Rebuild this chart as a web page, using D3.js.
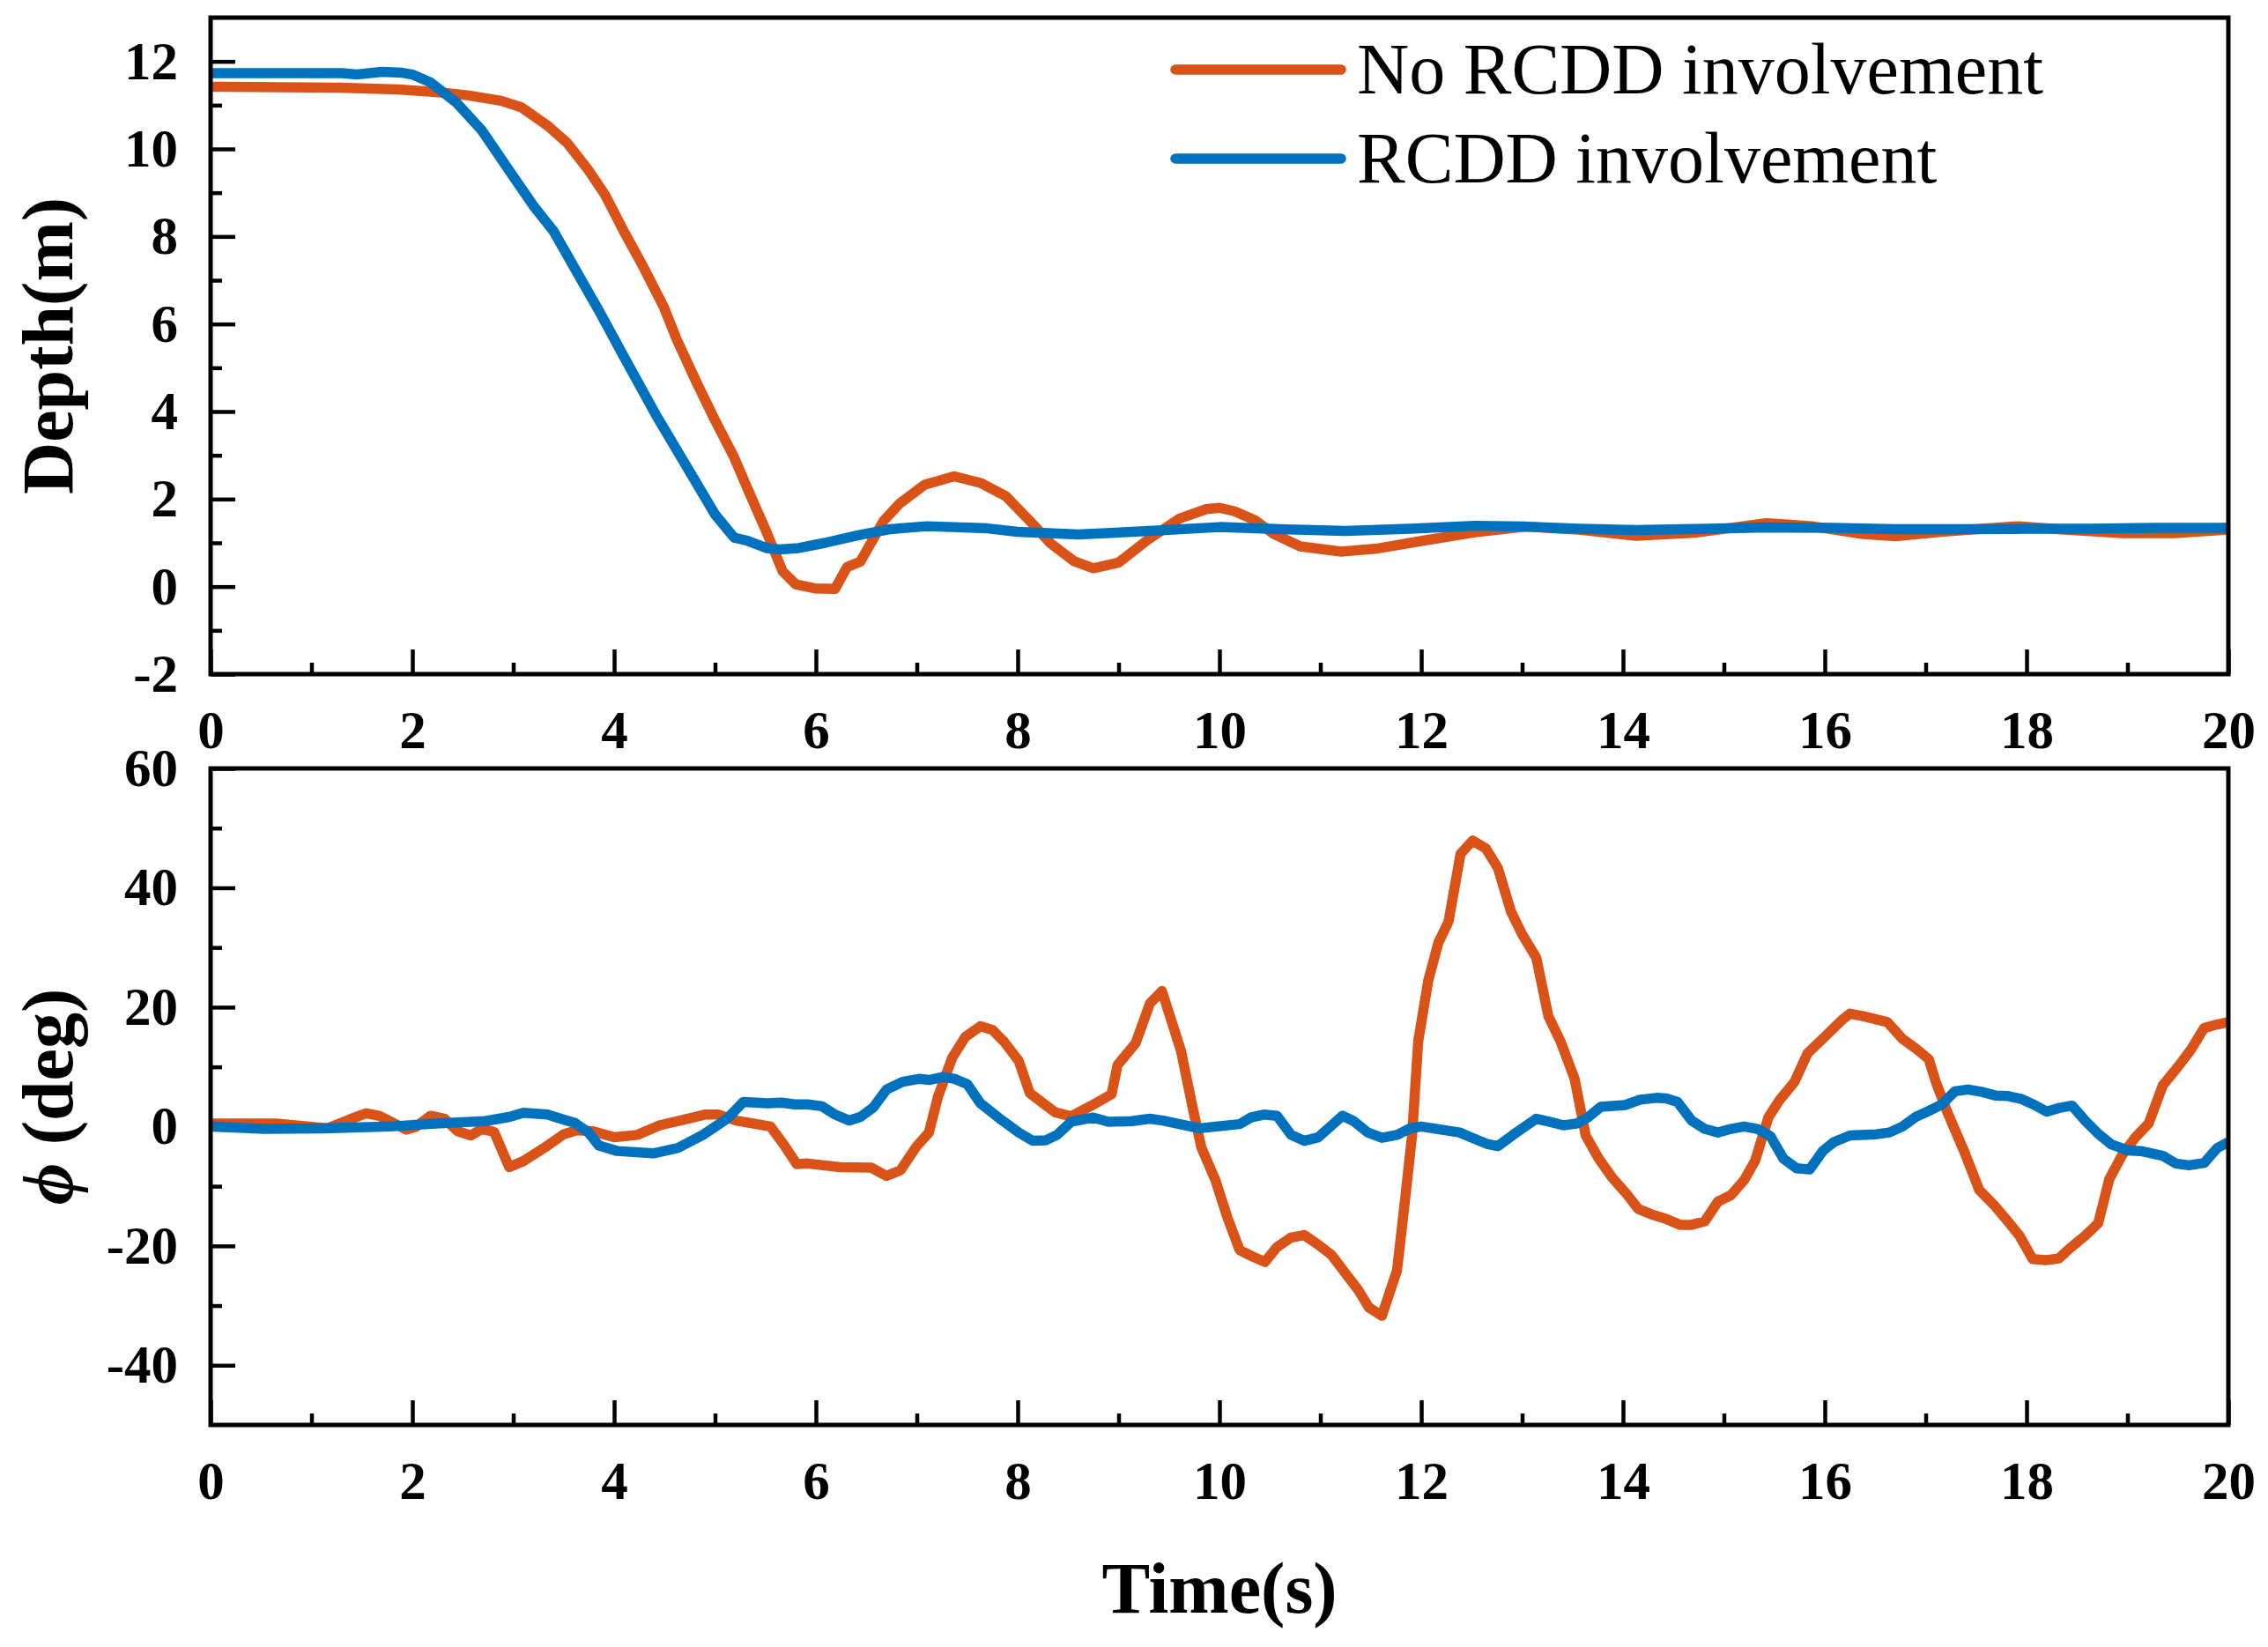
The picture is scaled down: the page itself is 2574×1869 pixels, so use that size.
<!DOCTYPE html>
<html>
<head>
<meta charset="utf-8">
<script src="https://cdn.jsdelivr.net/npm/d3@7"></script>
<style>
  body { margin: 0; background: #fff; }
  svg { display: block; font-family: 'Liberation Serif', 'Times New Roman', serif; }
</style>
</head>
<body>
<div class="canvas"></div>
<script>
// ---- data ----
const timeDepthNo = [0, 1.28, 1.86, 2.24, 2.56, 2.88, 3.08, 3.33, 3.53, 3.75, 3.91, 4.1, 4.29, 4.49, 4.62, 4.81, 5.0, 5.19, 5.32, 5.51, 5.67, 5.8, 5.99, 6.19, 6.31, 6.44, 6.67, 6.83, 7.08, 7.37, 7.63, 7.88, 8.1, 8.33, 8.56, 8.75, 9.0, 9.29, 9.6, 9.87, 10.0, 10.15, 10.35, 10.54, 10.8, 11.21, 11.57, 12.02, 12.53, 13.04, 13.56, 14.13, 14.71, 15.42, 15.87, 16.38, 16.7, 17.15, 17.92, 18.31, 18.95, 19.46, 20];
const depthNo = [11.42, 11.4, 11.36, 11.3, 11.22, 11.1, 10.95, 10.55, 10.15, 9.5, 8.95, 8.1, 7.3, 6.4, 5.65, 4.7, 3.8, 2.95, 2.25, 1.25, 0.35, 0.05, -0.04, -0.05, 0.45, 0.57, 1.5, 1.9, 2.33, 2.52, 2.37, 2.07, 1.55, 0.98, 0.58, 0.42, 0.55, 1.07, 1.55, 1.77, 1.8, 1.72, 1.52, 1.2, 0.92, 0.8, 0.87, 1.05, 1.24, 1.37, 1.3, 1.16, 1.23, 1.45, 1.38, 1.2, 1.15, 1.25, 1.38, 1.31, 1.22, 1.22, 1.3];

const timeDepthRcdd = [0, 1.3, 1.45, 1.7, 1.9, 2.0, 2.18, 2.44, 2.69, 3.0, 3.2, 3.4, 3.59, 3.85, 4.1, 4.42, 4.74, 5.0, 5.19, 5.32, 5.51, 5.64, 5.83, 6.09, 6.41, 6.73, 7.1, 7.7, 8.0, 8.6, 9.3, 10.0, 10.6, 11.25, 11.89, 12.53, 13.04, 13.56, 14.13, 14.84, 15.42, 16.06, 16.7, 17.34, 17.99, 18.63, 19.27, 20];
const depthRcdd = [11.73, 11.73, 11.7, 11.76, 11.74, 11.7, 11.52, 11.05, 10.42, 9.37, 8.7, 8.12, 7.35, 6.3, 5.24, 3.9, 2.66, 1.65, 1.12, 1.05, 0.88, 0.85, 0.88, 1.0, 1.17, 1.31, 1.38, 1.33, 1.25, 1.19, 1.27, 1.36, 1.31, 1.27, 1.32, 1.39, 1.37, 1.32, 1.29, 1.32, 1.35, 1.34, 1.31, 1.31, 1.32, 1.32, 1.34, 1.34];

const timeRollNo = [0, 0.65, 1.16, 1.38, 1.54, 1.67, 1.94, 2.03, 2.18, 2.32, 2.45, 2.58, 2.69, 2.81, 2.96, 3.1, 3.34, 3.5, 3.63, 3.79, 4.0, 4.23, 4.45, 4.68, 4.9, 5.03, 5.21, 5.55, 5.68, 5.81, 5.92, 6.24, 6.55, 6.7, 6.84, 6.99, 7.12, 7.21, 7.35, 7.48, 7.63, 7.75, 7.87, 8.01, 8.12, 8.26, 8.37, 8.53, 8.73, 8.93, 8.99, 9.17, 9.31, 9.43, 9.62, 9.73, 9.82, 9.96, 10.08, 10.2, 10.33, 10.45, 10.57, 10.71, 10.84, 10.98, 11.11, 11.24, 11.38, 11.48, 11.61, 11.76, 11.84, 11.91, 11.97, 12.07, 12.17, 12.27, 12.39, 12.51, 12.64, 12.76, 12.89, 13.0, 13.14, 13.26, 13.38, 13.52, 13.63, 13.76, 13.89, 14.04, 14.15, 14.28, 14.43, 14.57, 14.67, 14.81, 14.94, 15.07, 15.2, 15.31, 15.44, 15.55, 15.7, 15.83, 16.01, 16.18, 16.25, 16.38, 16.62, 16.77, 16.9, 17.03, 17.1, 17.21, 17.38, 17.53, 17.69, 17.82, 17.93, 18.06, 18.19, 18.32, 18.43, 18.58, 18.71, 18.82, 18.95, 19.08, 19.21, 19.35, 19.5, 19.63, 19.76, 19.89, 20];
const rollNo = [0.5, 0.5, -0.3, 1.2, 2.2, 1.8, -0.5, -0.1, 1.8, 1.3, -0.8, -1.5, -0.4, -0.9, -6.8, -5.8, -3.2, -1.3, -0.6, -0.8, -1.8, -1.4, 0.2, 1.1, 2.0, 2.0, 1.0, 0, -3, -6.3, -6.2, -6.8, -6.9, -8.3, -7.3, -3.5, -1, 5, 11.5, 15, 16.8, 16.2, 14.1, 11, 5.6, 3.8, 2.4, 1.7, 3.5, 5.4, 10.3, 14, 20.6, 22.7, 12.6, 3.5, -3.5, -9, -15.3, -20.7, -21.8, -22.7, -20.2, -18.6, -18.2, -19.8, -21.5, -24.4, -27.5, -30.3, -31.7, -24.1, -12.2, -1.3, 14.3, 24.5, 30.8, 34.3, 45.7, 47.9, 46.6, 43.3, 36, 32.2, 28.3, 18.5, 14.3, 8, -1.5, -5.4, -8.5, -11.4, -13.8, -14.7, -15.5, -16.5, -16.5, -15.9, -12.6, -11.5, -9.0, -5.7, 1.5, 4.4, 7.5, 12.3, 15.2, 18, 18.9, 18.5, 17.5, 14.7, 13.1, 11.3, 7.5, 2.6, -4.1, -10.6, -13.4, -16, -18.3, -22.2, -22.4, -22.1, -20.4, -18.3, -16.2, -8.8, -4.7, -1.8, 0.5, 6.9, 10, 12.9, 16.5, 17.1, 17.5];

const timeRollRcdd = [0, 0.53, 1.11, 1.78, 2.23, 2.72, 2.96, 3.1, 3.34, 3.47, 3.61, 3.74, 3.85, 4.03, 4.39, 4.63, 4.88, 5.12, 5.28, 5.52, 5.66, 5.79, 5.92, 6.06, 6.19, 6.33, 6.44, 6.57, 6.7, 6.86, 7.03, 7.12, 7.26, 7.37, 7.5, 7.63, 7.84, 8.01, 8.15, 8.28, 8.39, 8.53, 8.75, 8.9, 9.13, 9.31, 9.44, 9.8, 10.2, 10.31, 10.44, 10.57, 10.71, 10.84, 10.98, 11.22, 11.33, 11.47, 11.61, 11.76, 11.89, 12.0, 12.38, 12.49, 12.65, 12.76, 12.91, 13.14, 13.27, 13.41, 13.54, 13.65, 13.78, 14.02, 14.17, 14.33, 14.43, 14.54, 14.68, 14.81, 14.94, 15.07, 15.2, 15.33, 15.46, 15.59, 15.72, 15.85, 15.98, 16.09, 16.25, 16.51, 16.64, 16.77, 16.9, 17.03, 17.16, 17.29, 17.42, 17.56, 17.69, 17.82, 17.95, 18.08, 18.2, 18.32, 18.45, 18.58, 18.71, 18.84, 19.0, 19.13, 19.35, 19.48, 19.61, 19.76, 19.89, 20];
const rollRcdd = [0, -0.4, -0.3, 0, 0.5, 0.9, 1.6, 2.3, 2.0, 1.3, 0.6, -0.9, -3.2, -4.1, -4.5, -3.6, -1.4, 1.3, 4.1, 3.9, 4.0, 3.7, 3.7, 3.4, 2.0, 1.0, 1.6, 3.2, 6.2, 7.5, 8, 7.8, 8.3, 8, 7.1, 3.9, 1.1, -1, -2.4, -2.3, -1.4, 0.8, 1.5, 0.8, 0.9, 1.3, 1.0, -0.3, 0.4, 1.5, 2, 1.8, -1.4, -2.4, -1.8, 1.8, 0.9, -1, -1.9, -1.4, -0.3, 0, -1, -1.8, -2.9, -3.3, -1.4, 1.3, 0.8, 0.2, 0.5, 1.5, 3.3, 3.6, 4.5, 4.8, 4.7, 4.1, 1, -0.4, -1.0, -0.4, 0, -0.4, -1.6, -5.4, -7, -7.2, -4.1, -2.6, -1.5, -1.3, -1, 0, 1.6, 2.6, 3.7, 5.9, 6.2, 5.8, 5.2, 5.1, 4.6, 3.6, 2.5, 3.1, 3.5, 1, -1.2, -3, -4.0, -4.1, -4.9, -6.2, -6.5, -6.1, -3.6, -2.6];

const seriesNames = ['No RCDD involvement', 'RCDD involvement'];
const seriesColors = ['#D95319', '#0072BD'];

const timeTicks = [0, 2, 4, 6, 8, 10, 12, 14, 16, 18, 20];
const timeMinorTicks = [1, 3, 5, 7, 9, 11, 13, 15, 17, 19];
const depthTicks = [-2, 0, 2, 4, 6, 8, 10, 12];
const depthMinorTicks = [-1, 1, 3, 5, 7, 9, 11];
const rollTicks = [-40, -20, 0, 20, 40, 60];
const rollMinorTicks = [-30, -10, 10, 30, 50];

// ---- layout ----
const margin = { top: 20, right: 45, bottom: 253, left: 239 };
const svgWidth = 2574;
const svgHeight = 1869;
const graphWidth = svgWidth - margin.left - margin.right;
const panelHeight = 745;
const panelTops = [20, 872];

const svg = d3.select('.canvas')
    .append('svg')
    .attr('width', svgWidth)
    .attr('height', svgHeight)
;

const x = d3.scaleLinear().domain([0, 20]).range([0, graphWidth]);

const styleAxis = (g, size) => {
    g.attr('font-family', null).attr('font-size', null);
    g.select('.domain').remove();
    g.selectAll('line').attr('stroke', '#000').attr('stroke-width', 4.5);
    g.selectAll('text')
        .attr('fill', '#000')
        .style('font-size', size + 'px')
        .style('font-weight', 'bold');
};

const drawPanel = (idx, yDomain, yTicks, yMinor, series) => {
    const y = d3.scaleLinear().domain(yDomain).range([panelHeight, 0]);

    const graph = svg.append('g')
        .attr('transform', `translate(${margin.left}, ${panelTops[idx]})`)
    ;

    graph.append('clipPath')
        .attr('id', 'clip' + idx)
        .append('rect')
            .attr('width', graphWidth)
            .attr('height', panelHeight)
    ;

    // axes (ticks point inward)
    const xAxisGroup = graph.append('g').attr('transform', `translate(0, ${panelHeight})`);
    xAxisGroup.call(d3.axisBottom(x).tickValues(timeTicks).tickSize(-28).tickSizeOuter(0)
        .tickPadding(41).tickFormat(d => String(d)));
    styleAxis(xAxisGroup, 61);

    const xMinorGroup = graph.append('g').attr('transform', `translate(0, ${panelHeight})`);
    xMinorGroup.call(d3.axisBottom(x).tickValues(timeMinorTicks).tickSize(-13).tickSizeOuter(0).tickFormat(''));
    styleAxis(xMinorGroup, 61);

    const yAxisGroup = graph.append('g');
    yAxisGroup.call(d3.axisLeft(y).tickValues(yTicks).tickSize(-28).tickSizeOuter(0)
        .tickPadding(37).tickFormat(d => String(d)));
    styleAxis(yAxisGroup, 61);

    const yMinorGroup = graph.append('g');
    yMinorGroup.call(d3.axisLeft(y).tickValues(yMinor).tickSize(-13).tickSizeOuter(0).tickFormat(''));
    styleAxis(yMinorGroup, 61);

    // lines
    const line = d3.line()
        .x(d => x(d[0]))
        .y(d => y(d[1]))
    ;
    series.forEach((s, i) => {
        graph.append('path')
            .datum(d3.zip(s.time, s.values))
            .attr('clip-path', `url(#clip${idx})`)
            .attr('fill', 'none')
            .attr('stroke', seriesColors[i])
            .attr('stroke-width', 11.5)
            .attr('stroke-linejoin', 'round')
            .attr('d', line)
        ;
    });

    // frame
    graph.append('rect')
        .attr('width', graphWidth)
        .attr('height', panelHeight)
        .attr('fill', 'none')
        .attr('stroke', '#000')
        .attr('stroke-width', 5)
    ;

    return graph;
};

const depthGraph = drawPanel(0, [-2, 13], depthTicks, depthMinorTicks, [
    { time: timeDepthNo, values: depthNo },
    { time: timeDepthRcdd, values: depthRcdd }
]);
drawPanel(1, [-50, 60], rollTicks, rollMinorTicks, [
    { time: timeRollNo, values: rollNo },
    { time: timeRollRcdd, values: rollRcdd }
]);

// legend
const legend = depthGraph.append('g').attr('transform', `translate(${1334 - margin.left}, 0)`);
seriesNames.forEach((name, i) => {
    const ly = 79 + i * 101 - margin.top;
    legend.append('line')
        .attr('x1', 0).attr('x2', 188)
        .attr('y1', ly).attr('y2', ly)
        .attr('stroke', seriesColors[i])
        .attr('stroke-width', 11.5)
        .attr('stroke-linecap', 'round')
    ;
    legend.append('text')
        .attr('x', 206)
        .attr('y', ly + 27)
        .style('font-size', '82px')
        .text(name)
    ;
});

// axis titles
svg.append('text')
    .attr('transform', `translate(82, ${panelTops[0] + panelHeight / 2}) rotate(-90)`)
    .attr('text-anchor', 'middle')
    .style('font-size', '82px')
    .style('font-weight', 'bold')
    .text('Depth(m)')
;
const rollTitle = svg.append('text')
    .attr('transform', `translate(82, ${panelTops[1] + panelHeight / 2}) rotate(-90)`)
    .attr('text-anchor', 'middle')
    .style('font-size', '82px')
    .style('font-weight', 'bold')
;
rollTitle.append('tspan').style('font-style', 'italic').text('\u03D5');
rollTitle.append('tspan').text(' (deg)');

svg.append('text')
    .attr('x', margin.left + graphWidth / 2)
    .attr('y', 1830)
    .attr('text-anchor', 'middle')
    .style('font-size', '82px')
    .style('font-weight', 'bold')
    .text('Time(s)')
;
</script>
</body>
</html>
